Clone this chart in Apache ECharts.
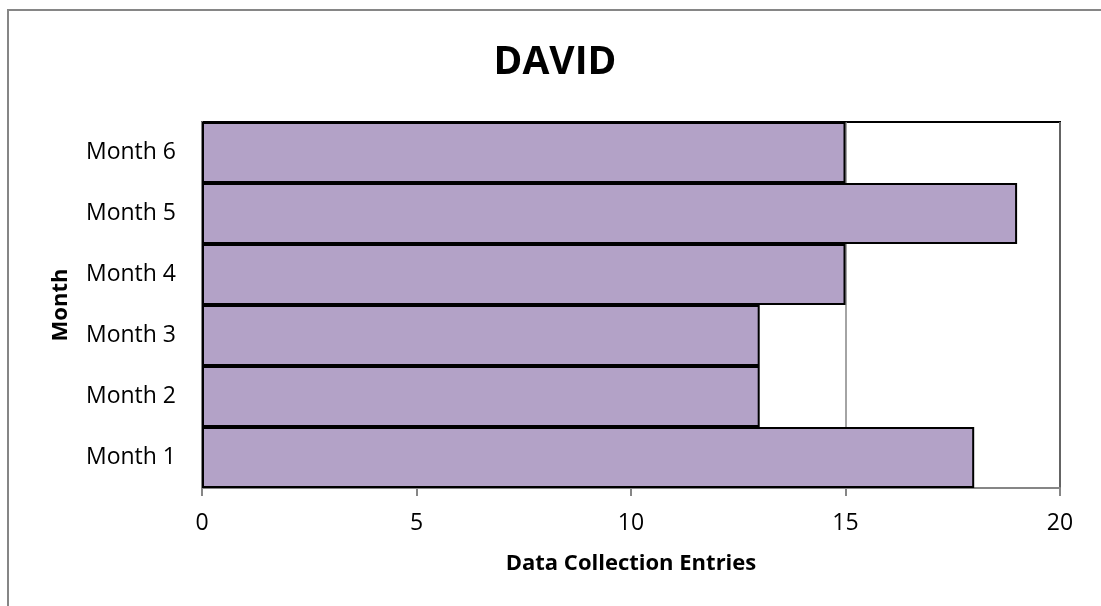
<!DOCTYPE html>
<html>
<head>
<meta charset="utf-8">
<script src="https://cdn.jsdelivr.net/npm/echarts@6/dist/echarts.min.js"></script>
<style>
html,body{margin:0;padding:0;background:#fff;width:1101px;height:606px;overflow:hidden;position:relative;}
#frame{position:absolute;left:7px;top:9px;width:1200px;height:700px;border:2px solid #868686;box-sizing:border-box;}
#c{position:absolute;left:8px;top:9px;width:1094px;height:600px;}
</style>
</head>
<body>
<div id="frame"></div>
<div id="c"></div>
<script>
const categories = ['Month 1','Month 2','Month 3','Month 4','Month 5','Month 6'];
const entries = [18, 13, 13, 15, 19, 15];
const xTicks = [0, 5, 10, 15, 20];

const FONT = '"Open Sans", sans-serif';
const chart = echarts.init(document.getElementById('c'));
chart.setOption({
  animation: false,
  title: {
    text: 'DAVID', left: 'center', top: 29,
    textStyle: {fontFamily: FONT, fontSize: 39, fontWeight: 'bold', color: '#000'}
  },
  grid: {left: 194, right: 42, top: 113, bottom: 121, show: true, borderColor: '#000', borderWidth: 2, containLabel: false},
  xAxis: {
    type: 'value', min: xTicks[0], max: xTicks[xTicks.length-1], interval: 5,
    name: 'Data Collection Entries', nameLocation: 'middle', nameGap: 65,
    nameTextStyle: {fontFamily: FONT, fontSize: 22, fontWeight: 'bold', color: '#000'},
    axisLine: {show: true, lineStyle: {color: '#868686', width: 2}},
    axisTick: {show: true, length: 8, lineStyle: {color: '#868686', width: 2}},
    axisLabel: {fontFamily: FONT, fontSize: 23, color: '#000', margin: 24},
    splitLine: {show: true, lineStyle: {color: '#868686', width: 1.5}}
  },
  yAxis: {
    type: 'category', data: categories,
    name: 'Month', nameLocation: 'middle', nameGap: 130, nameRotate: 90,
    nameTextStyle: {fontFamily: FONT, fontSize: 22, fontWeight: 'bold', color: '#000'},
    axisLine: {show: true, lineStyle: {color: '#868686', width: 2}},
    axisTick: {show: false},
    axisLabel: {fontFamily: FONT, fontSize: 23, color: '#000', margin: 26}
  },
  series: [{
    type: 'bar', data: entries, barCategoryGap: 0, barWidth: '100%',
    itemStyle: {color: '#B3A2C7', borderColor: '#000', borderWidth: 2}
  }]
});
</script>
</body>
</html>
